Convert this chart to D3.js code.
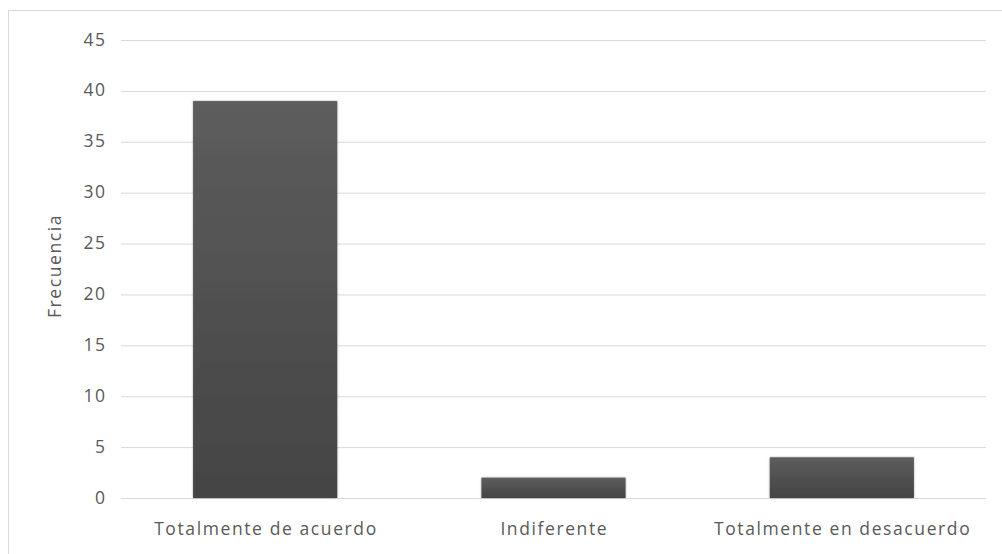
<!DOCTYPE html>
<html><head><meta charset="utf-8">
<script src="https://cdn.jsdelivr.net/npm/d3@7"></script>
<style>body{margin:0;background:#fff}svg{display:block}text{font-family:"Open Sans","Noto Sans",sans-serif}</style>
</head><body><svg id="c" width="1002" height="554"></svg>
<script>
const categories = ["Totalmente de acuerdo", "Indiferente", "Totalmente en desacuerdo"];
const values = [39, 2, 4];
const yTicks = [0, 5, 10, 15, 20, 25, 30, 35, 40, 45];
const yTitle = "Frecuencia";

const svg = d3.select("#c");
const defs = svg.append("defs");
const g = defs.append("linearGradient").attr("id","bg").attr("x1",0).attr("y1",0).attr("x2",0).attr("y2",1);
g.append("stop").attr("offset","0%").attr("stop-color","#5d5d5d");
g.append("stop").attr("offset","100%").attr("stop-color","#444444");
const f = defs.append("filter").attr("id","sh").attr("x","-10%").attr("y","-10%").attr("width","120%").attr("height","120%");
f.append("feDropShadow").attr("dx",0).attr("dy",0).attr("stdDeviation",1.2).attr("flood-color","#000").attr("flood-opacity",0.35);

svg.append("rect").attr("x",8.5).attr("y",10.5).attr("width",1010).attr("height",560)
  .attr("fill","#fff").attr("stroke","#d9d9d9");

const L = 121, R = 986, T = 40, B = 498;
const x = d3.scaleBand().domain(categories).range([L, R]).paddingInner(0.5).paddingOuter(0.25);
const y = d3.scaleLinear().domain([0, 45]).range([B, T]);
const FS = 17.5, LS = 1.6;

svg.append("g").selectAll("line").data(yTicks).join("line")
  .attr("x1", L).attr("x2", R).attr("y1", d => y(d)+0.5).attr("y2", d => y(d)+0.5)
  .attr("stroke", "#d9d9d9").attr("stroke-width", 1);

svg.append("g").selectAll("text").data(yTicks).join("text")
  .attr("x", 105 + LS).attr("y", d => y(d)).attr("dy","0.32em").attr("text-anchor","end")
  .attr("font-size", FS).attr("letter-spacing", LS).attr("fill", "#595959").text(d => d);

svg.append("g").selectAll("rect").data(values).join("rect")
  .attr("x", (d,i) => x(categories[i])).attr("width", x.bandwidth())
  .attr("y", d => y(d)).attr("height", d => y(0) - y(d))
  .attr("fill", "url(#bg)").attr("filter","url(#sh)");

svg.append("g").selectAll("text").data(categories).join("text")
  .attr("x", d => x(d) + x.bandwidth()/2 + LS/2).attr("y", 535)
  .attr("text-anchor","middle").attr("font-size", FS).attr("letter-spacing", LS).attr("fill","#595959").text(d => d);

svg.append("text").attr("transform","translate(55,266) rotate(-90)")
  .attr("text-anchor","middle").attr("dy","0.35em").attr("font-size",FS).attr("letter-spacing", LS).attr("fill","#595959").text(yTitle);
</script></body></html>
